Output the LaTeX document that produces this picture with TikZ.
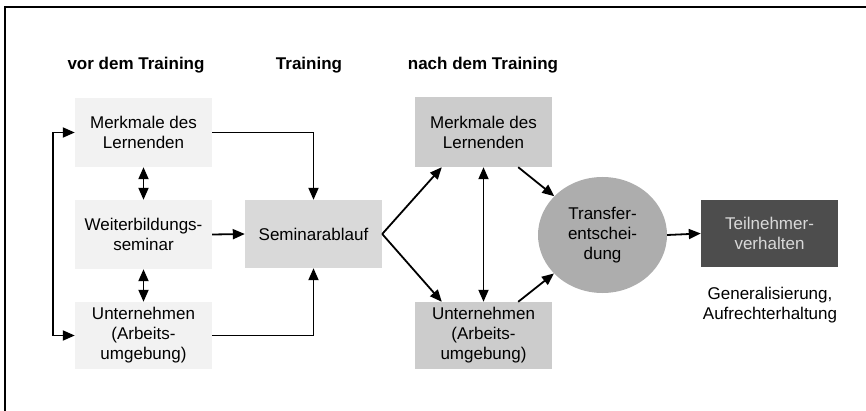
\documentclass[tikz,border=0pt]{standalone}
\usepackage{fontspec}
\setmainfont{Liberation Sans}
\usetikzlibrary{arrows.meta,shapes.geometric,calc}
\definecolor{lightbox}{HTML}{F2F2F2}
\definecolor{midbox}{HTML}{D9D9D9}
\definecolor{rightbox}{HTML}{CCCCCC}
\definecolor{circfill}{HTML}{ADADAD}
\definecolor{darkbox}{HTML}{4D4D4D}
\definecolor{darktext}{HTML}{D9D9D9}
\tikzset{
  every node/.style={font=\fontsize{17}{20}\selectfont, align=center, inner sep=0pt},
  box/.style={rectangle, minimum width=137pt, minimum height=68pt},
  heading/.style={font=\fontsize{17}{20}\selectfont\bfseries},
  arr/.style={line width=1.8pt, -{Triangle[length=12pt,width=10pt]}},
  darr/.style={line width=1.8pt, {Triangle[length=12pt,width=10pt]}-{Triangle[length=12pt,width=10pt]}},
}
\begin{document}
\begin{tikzpicture}[x=1pt,y=-1pt]
\useasboundingbox (0,0) rectangle (866,411);
\draw[line width=1.8pt] (5,411) -- (5,7) -- (866,7);
% headings
\node[heading] (h1) at (136,65) {vor dem Training};
\node[heading] (h2) at (309,65) {Training};
\node[heading] (h3) at (483,65) {nach dem Training};
% boxes
\node[box, fill=lightbox, minimum height=69pt] (mdl1) at (143.5,132.5) {Merkmale des\\Lernenden};
\node[box, fill=lightbox, minimum height=69pt] (wb) at (143.5,234.5) {Weiterbildungs-\\seminar};
\node[box, fill=lightbox, minimum height=67pt] (un1) at (143.5,335.5) {Unternehmen\\(Arbeits-\\umgebung)};
\node[box, fill=midbox] (sem) at (313.5,234) {Seminarablauf};
\node[box, fill=rightbox, minimum height=70pt] (mdl2) at (483.5,132) {Merkmale des\\Lernenden};
\node[box, fill=rightbox, minimum height=67pt] (un2) at (483.5,335.5) {Unternehmen\\(Arbeits-\\umgebung)};
\node[ellipse, fill=circfill, minimum width=129pt, minimum height=116pt] (tr) at (602.5,235) {Transfer-\\entschei-\\dung};
\node[box, fill=darkbox, text=darktext, minimum height=67pt] (tn) at (769.5,233.5) {Teilnehmer-\\verhalten};
\node (gen) at (770,305) {Generalisierung,\\Aufrechterhaltung};
% connectors
\draw[darr] (mdl1.west) -- ++(-22,0) |- (un1.west);
\draw[darr] (mdl1.south) -- (wb.north);
\draw[darr] (wb.south) -- (un1.north);
\draw[arr] (wb.east) -- (sem.west);
\draw[arr] (mdl1.east) -| (sem.north);
\draw[arr] (un1.east) -| (sem.south);
\coordinate (m2a) at ($(mdl2.south west)+(27,0)$);
\coordinate (u2a) at ($(un2.north west)+(27,0)$);
\draw[arr] (sem.east) -- (m2a);
\draw[arr] (sem.east) -- (u2a);
\draw[darr] (mdl2.south) -- (un2.north);
\coordinate (m2b) at ($(mdl2.south east)+(-34,0)$);
\coordinate (u2b) at ($(un2.north east)+(-34,0)$);
\draw[arr] (m2b) -- (tr);
\draw[arr] (u2b) -- (tr);
\draw[arr] (tr.east) -- (tn.west);
\end{tikzpicture}
\end{document}
